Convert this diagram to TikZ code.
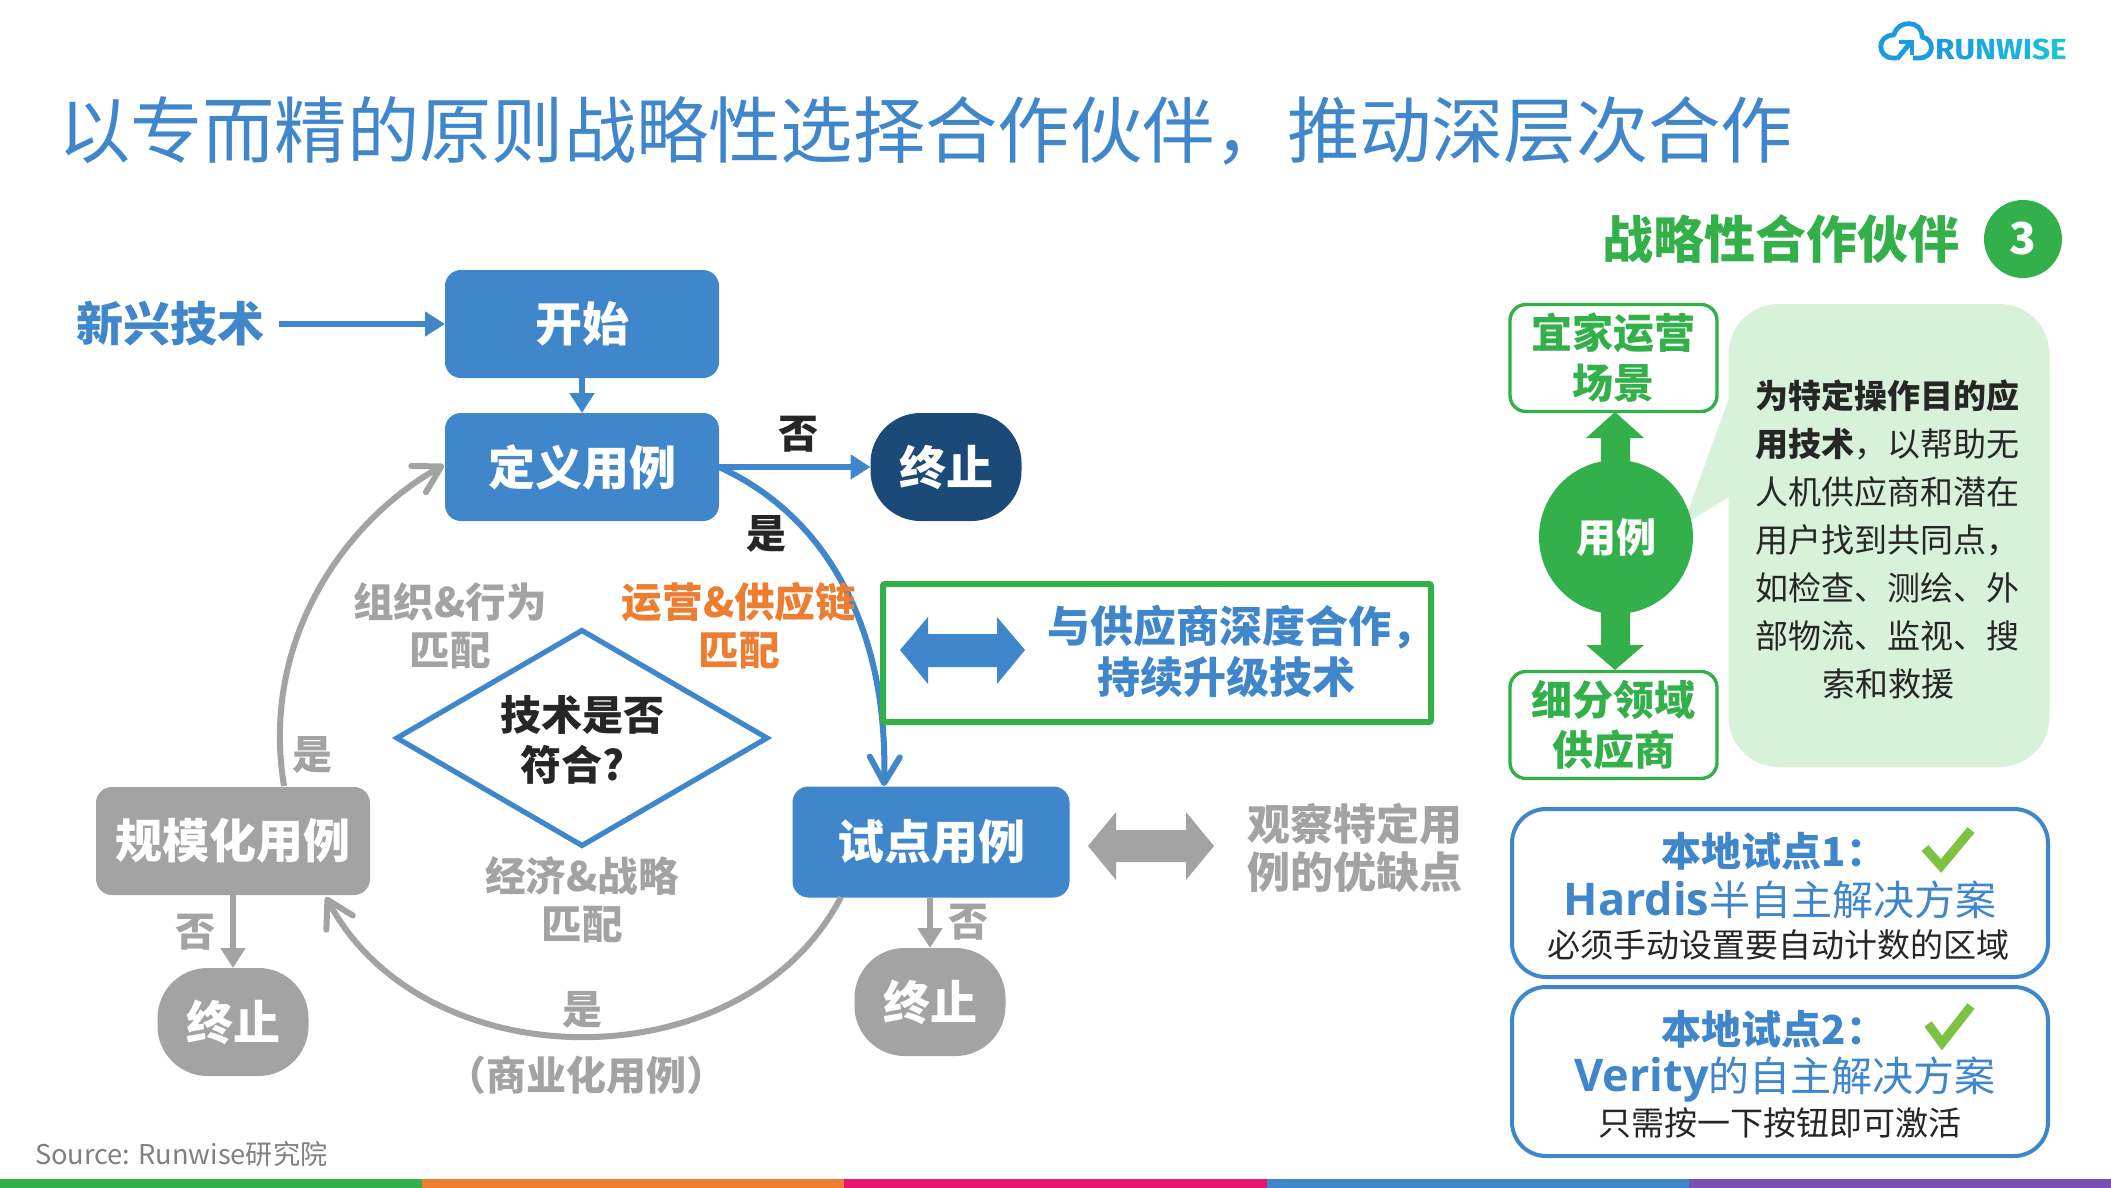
\documentclass[tikz,border=0pt]{standalone}
\usepackage{fontspec}
\setmainfont{Noto Sans CJK SC}
\newfontfamily\latinb{Open Sans}
\newfontfamily\logofont{Fira Sans}
\usetikzlibrary{arrows.meta,shapes.geometric}
\definecolor{rwblue}{HTML}{3F86CB}
\definecolor{rwdark}{HTML}{1B4A78}
\definecolor{rwgrey}{HTML}{A3A3A3}
\definecolor{rwgreen}{HTML}{33B04A}
\definecolor{rwlight}{HTML}{D8F2DA}
\definecolor{rworange}{HTML}{ED7D31}
\definecolor{rwpink}{HTML}{E6156F}
\definecolor{rwpurple}{HTML}{7A4FB5}
\definecolor{rwcheck}{HTML}{7DC242}
\definecolor{rwtext}{HTML}{262626}
\definecolor{rwlogo}{HTML}{1E9BE0}
\definecolor{logoa}{HTML}{1E9BE0}
\definecolor{logob}{HTML}{1CA3DF}
\definecolor{logoc}{HTML}{1BAADD}
\definecolor{logod}{HTML}{1AB1DB}
\definecolor{logoe}{HTML}{19B8D9}
\definecolor{logof}{HTML}{18BED7}
\definecolor{logog}{HTML}{17C4D5}
\newcommand{\fsz}[2]{\fontsize{#1}{#2}\selectfont}
\tikzset{
  x=.5pt,y=-.5pt,
  base/.style={inner sep=0pt,outer sep=0pt,align=center},
  flowbox/.style={base,rounded corners=8pt,fill=rwblue,text=white,minimum height=54pt,font=\fsz{23.5}{28}\bfseries},
  greybox/.style={flowbox,fill=rwgrey},
  stopbox/.style={base,rounded corners=25pt,minimum width=75.5pt,minimum height=54pt,text=white,font=\fsz{23.5}{28}\bfseries},
  lab/.style={base,font=\fsz{20}{24}\bfseries},
  graylab/.style={base,text=rwgrey,font=\fsz{20.3}{24}\bfseries},
  greenbox/.style={base,draw=rwgreen,line width=1.7pt,fill=white,rounded corners=8pt,minimum width=103.5pt,minimum height=53.5pt,text=rwgreen,font=\fsz{20.5}{25}\bfseries},
  pilotbox/.style={base,draw=rwblue,line width=2pt,fill=white,rounded corners=17pt,minimum width=268pt},
  ptitle/.style={base,text=rwblue,font=\fsz{20}{24}\bfseries},
  psub/.style={base,text=rwblue,font=\fsz{20.5}{24}},
  pnote/.style={base,text=rwtext,font=\fsz{16.5}{20}},
  thick arrow/.style={line width=2.6pt,-{Triangle[length=10pt,width=12pt]}},
  open arrow/.style={line width=3pt,-{Straight Barb[length=13pt,width=15pt,line width=3pt,round]}},
  checkmark/.style={draw=rwcheck,line width=4.5pt}
}
\begin{document}
\begin{tikzpicture}
\useasboundingbox (0,0) rectangle (2111,1188);
% bottom strip
\fill[rwgreen] (0,1179) rectangle (422.2,1188);
\fill[rworange] (422.2,1179) rectangle (844.4,1188);
\fill[rwpink] (844.4,1179) rectangle (1266.6,1188);
\fill[rwblue] (1266.6,1179) rectangle (1688.8,1188);
\fill[rwpurple] (1688.8,1179) rectangle (2111,1188);
% logo
\draw[rwlogo,line width=2.4pt,line join=round]
  (1897,58) -- (1893,58) .. controls (1877,58) and (1876,35) .. (1894,35)
  .. controls (1897,19) and (1923,20) .. (1922,37)
  .. controls (1935,39) and (1935,58) .. (1919,58) -- (1913,58);
\draw[rwlogo,line width=2.4pt] (1897,59) -- (1911,42);
\draw[rwlogo,line width=2.2pt] (1899,42) -- (1912,42) -- (1912,55);
\node[base,anchor=west] (logotext) at (1935,49.5) {\scalebox{1.09}[1]{\logofont\fsz{14.5}{18}\bfseries\textcolor{logoa}{R}\textcolor{logob}{U}\textcolor{logoc}{N}\textcolor{logod}{W}\textcolor{logoe}{I}\textcolor{logof}{S}\textcolor{logog}{E}}};
% title
\node[base,anchor=west,text=rwblue,font=\fsz{36.15}{40}] (title) at (58,131) {以专而精的原则战略性选择合作伙伴，推动深层次合作};
\node[base,text=rwgreen,font=\fsz{25.5}{30}\bfseries] (heading) at (1781,239) {战略性合作伙伴};
\node[base,circle,fill=rwgreen,minimum size=39pt,text=white,font=\fsz{22}{26}\bfseries] (three) at (2023,239) {3};
% flow nodes
\node[lab,text=rwblue,font=\fsz{23.5}{28}\bfseries] (emerging) at (170,324) {新兴技术};
\node[flowbox,minimum width=137pt] (start) at (582,324) {开始};
\node[flowbox,minimum width=137pt] (define) at (582,467) {定义用例};
\node[stopbox,fill=rwdark] (stopa) at (946,467) {终止};
\node[flowbox,minimum width=138.5pt,minimum height=55.5pt] (pilot) at (931,842) {试点用例};
\node[greybox,minimum width=137pt] (scale) at (233,841) {规模化用例};
\node[stopbox,fill=rwgrey] (stopb) at (233,1022) {终止};
\node[stopbox,fill=rwgrey] (stopc) at (930,1002) {终止};
\node[base,diamond,draw=rwblue,line width=2.6pt,minimum width=185pt,minimum height=107.5pt,aspect=1.72] (fit) at (582,738) {};
\node[lab,text=rwtext,font=\fsz{20.5}{25}\bfseries] (fittext) at (577,740) {\hspace*{5pt}技术是否\\符合?\hspace*{5pt}};
% connection points
\coordinate (pilottop) at (884,786);
\coordinate (pilotbl) at (841,897);
\coordinate (scalebr) at (326,897);
\coordinate (scaletop) at (284,786);
\coordinate (defleft) at (444,465);
% connectors
\draw[rwblue,thick arrow] (emerging.east)+(15,0) -- (start.west);
\draw[rwblue,thick arrow] (start.south) -- (define.north);
\draw[rwblue,thick arrow] (define.east) -- (stopa.west);
\draw[rwblue,open arrow] (define.east) .. controls (835,520) and (888,640) .. (pilottop);
\draw[rwgrey,open arrow] (scaletop) .. controls (260,640) and (345,520) .. (defleft);
\draw[rwgrey,open arrow] (pilotbl) .. controls (745,1083) and (425,1083) .. (scalebr);
\draw[rwgrey,thick arrow] (scale.south) -- (stopb.north);
\draw[rwgrey,thick arrow] (pilot.south -| stopc.north) -- (stopc.north);
% labels
\node[lab,text=rwtext] (noa) at (798,434) {否};
\node[lab,text=rwtext] (yesa) at (766,534) {是};
\node[graylab] (orgfit) at (450,626) {组织\&行为\\匹配};
\node[graylab,text=rworange] (opsfit) at (739,626) {运营\&供应链\\匹配};
\node[graylab] (econfit) at (582,900) {经济\&战略\\匹配};
\node[lab,text=rwgrey] (yesb) at (312,755) {是};
\node[lab,text=rwgrey] (nob) at (195,932) {否};
\node[lab,text=rwgrey] (noc) at (968,922) {否};
\node[lab,text=rwgrey] (yesc) at (582,1010) {是};
\node[graylab,font=\fsz{20}{24}\bfseries] (comm) at (586,1075) {（商业化用例）};
% green frame
\node[base,draw=rwgreen,line width=3pt,rounded corners=1pt,minimum width=274pt,minimum height=69pt] (frame) at (1157,653) {};
\fill[rwblue] (900,650) -- (928,617) -- (928,634) -- (997,634) -- (997,617) -- (1025,650) -- (997,684) -- (997,667) -- (928,667) -- (928,684) -- cycle;
\node[base,text=rwblue,font=\fsz{21.5}{25.5}\bfseries] (deep) at (1226,651) {\hspace*{15pt}与供应商深度合作，\\持续升级技术};
\fill[rwgrey] (1088,846) -- (1116,812) -- (1116,830) -- (1186,830) -- (1186,812) -- (1214,846) -- (1186,880) -- (1186,862) -- (1116,862) -- (1116,880) -- cycle;
\node[graylab,font=\fsz{21.5}{24}\bfseries] (observe) at (1355,848) {观察特定用\\例的优缺点};
% right column
\fill[rwlight] (1729,398) -- (1683,525) -- (1729,497) -- cycle;
\node[base,fill=rwlight,rounded corners=25pt,minimum width=160.5pt,minimum height=231.5pt] (panel) at (1889,535.5) {};
\node[base,anchor=north west,align=left,text=rwtext,font=\fsz{16.5}{24}] (paneltext) at (1755,380) {\textbf{为特定操作目的应}\\\textbf{用技术}，以帮助无\\人机供应商和潜在\\用户找到共同点，\\如检查、测绘、外\\部物流、监视、搜\\\hspace*{33.7pt}索和救援};
\fill[rwgreen] (1615,412) -- (1644,438) -- (1630,438) -- (1630,645) -- (1644,645) -- (1615,670) -- (1586,645) -- (1601,645) -- (1601,438) -- (1586,438) -- cycle;
\node[greenbox] (ikea) at (1613.5,358) {宜家运营\\场景};
\node[greenbox] (niche) at (1613.5,725) {细分领域\\供应商};
\node[base,circle,fill=rwgreen,minimum size=77pt,text=white,font=\fsz{20}{24}\bfseries] (usecase) at (1616,537) {用例};
\node[pilotbox,minimum height=84pt] (pa) at (1780,893) {};
\node[pilotbox,minimum height=84.5pt] (pb) at (1780,1071.5) {};
\node[ptitle] (pat) at (1774,851) {本地试点1：};
\node[psub] (pas) at (1780,900) {{\latinb\fsz{22.5}{24}\bfseries Hardis}半自主解决方案};
\node[pnote] (pan) at (1778,945) {必须手动设置要自动计数的区域};
\draw[checkmark] (1925,848) -- (1941,866) -- (1971,830);
\node[ptitle] (pbt) at (1774,1029) {本地试点2：};
\node[psub] (pbs) at (1785,1080) {{\latinb\fsz{22.5}{24}\bfseries Verity}的自主解决方案};
\node[pnote] (pbn) at (1780,1123) {只需按一下按钮即可激活};
\draw[checkmark] (1928,1024) -- (1942,1043) -- (1971,1006);
\node[base,anchor=west,text=gray,font=\fsz{13.6}{18}] (source) at (35,1154) {Source: Runwise研究院};
\end{tikzpicture}
\end{document}
